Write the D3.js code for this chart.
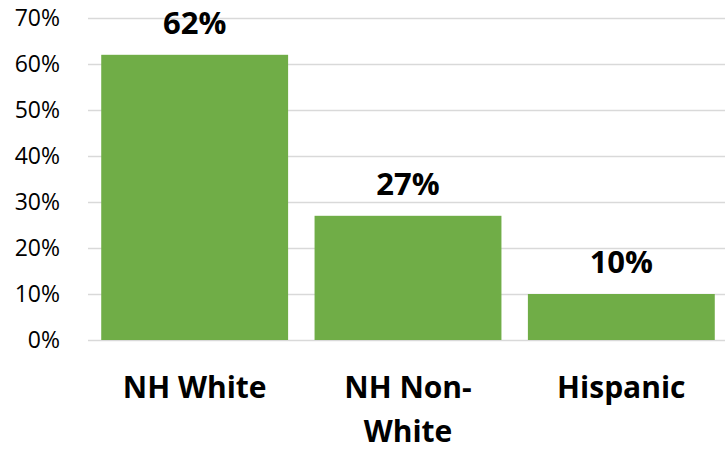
<!DOCTYPE html>
<html><head><meta charset="utf-8">
<script src="https://cdn.jsdelivr.net/npm/d3@7"></script>
<style>body{margin:0;background:#fff}svg{display:block}text{font-family:"Open Sans",sans-serif}</style>
</head><body>
<script>
const categories = ["NH White", "NH Non-White", "Hispanic"];
const categoryLines = [["NH White"], ["NH Non-", "White"], ["Hispanic"]];
const values = [62, 27, 10];
const yTicks = [0, 10, 20, 30, 40, 50, 60, 70];

const W = 725, H = 451;
const svg = d3.select("body").append("svg").attr("width", W).attr("height", H);
const x = d3.scaleBand().domain(categories).range([88, 728]).paddingInner(0.124).paddingOuter(0.062);
const y = d3.scaleLinear().domain([0, 70]).range([340, 18]);

const g = svg.append("g");
g.selectAll("line.grid").data(yTicks).join("line")
  .attr("x1", 88).attr("x2", W).attr("y1", d => y(d) + 0.5).attr("y2", d => y(d) + 0.5)
  .attr("stroke", "#d9d9d9").attr("stroke-width", 1.3);

g.selectAll("text.tick").data(yTicks).join("text")
  .attr("x", 60).attr("y", d => y(d) + 8)
  .attr("text-anchor", "end").attr("font-size", 23).attr("fill", "#000")
  .text(d => d + "%");

g.selectAll("rect").data(values).join("rect")
  .attr("x", (d, i) => x(categories[i])).attr("width", x.bandwidth())
  .attr("y", d => y(d)).attr("height", d => y(0) - y(d))
  .attr("fill", "#70ad47");

g.selectAll("text.val").data(values).join("text")
  .attr("x", (d, i) => x(categories[i]) + x.bandwidth() / 2)
  .attr("y", d => y(d) - 21)
  .attr("text-anchor", "middle").attr("font-size", 31).attr("font-weight", "bold")
  .text(d => d + "%");

categories.forEach((c, i) => {
  const t = g.append("text").attr("text-anchor", "middle").attr("font-size", 30).attr("font-weight", "bold")
    .attr("x", x(c) + x.bandwidth() / 2).attr("y", 398);
  categoryLines[i].forEach((ln, j) => {
    t.append("tspan").attr("x", x(c) + x.bandwidth() / 2).attr("dy", j === 0 ? 0 : 44).text(ln);
  });
});
</script>
</body></html>
